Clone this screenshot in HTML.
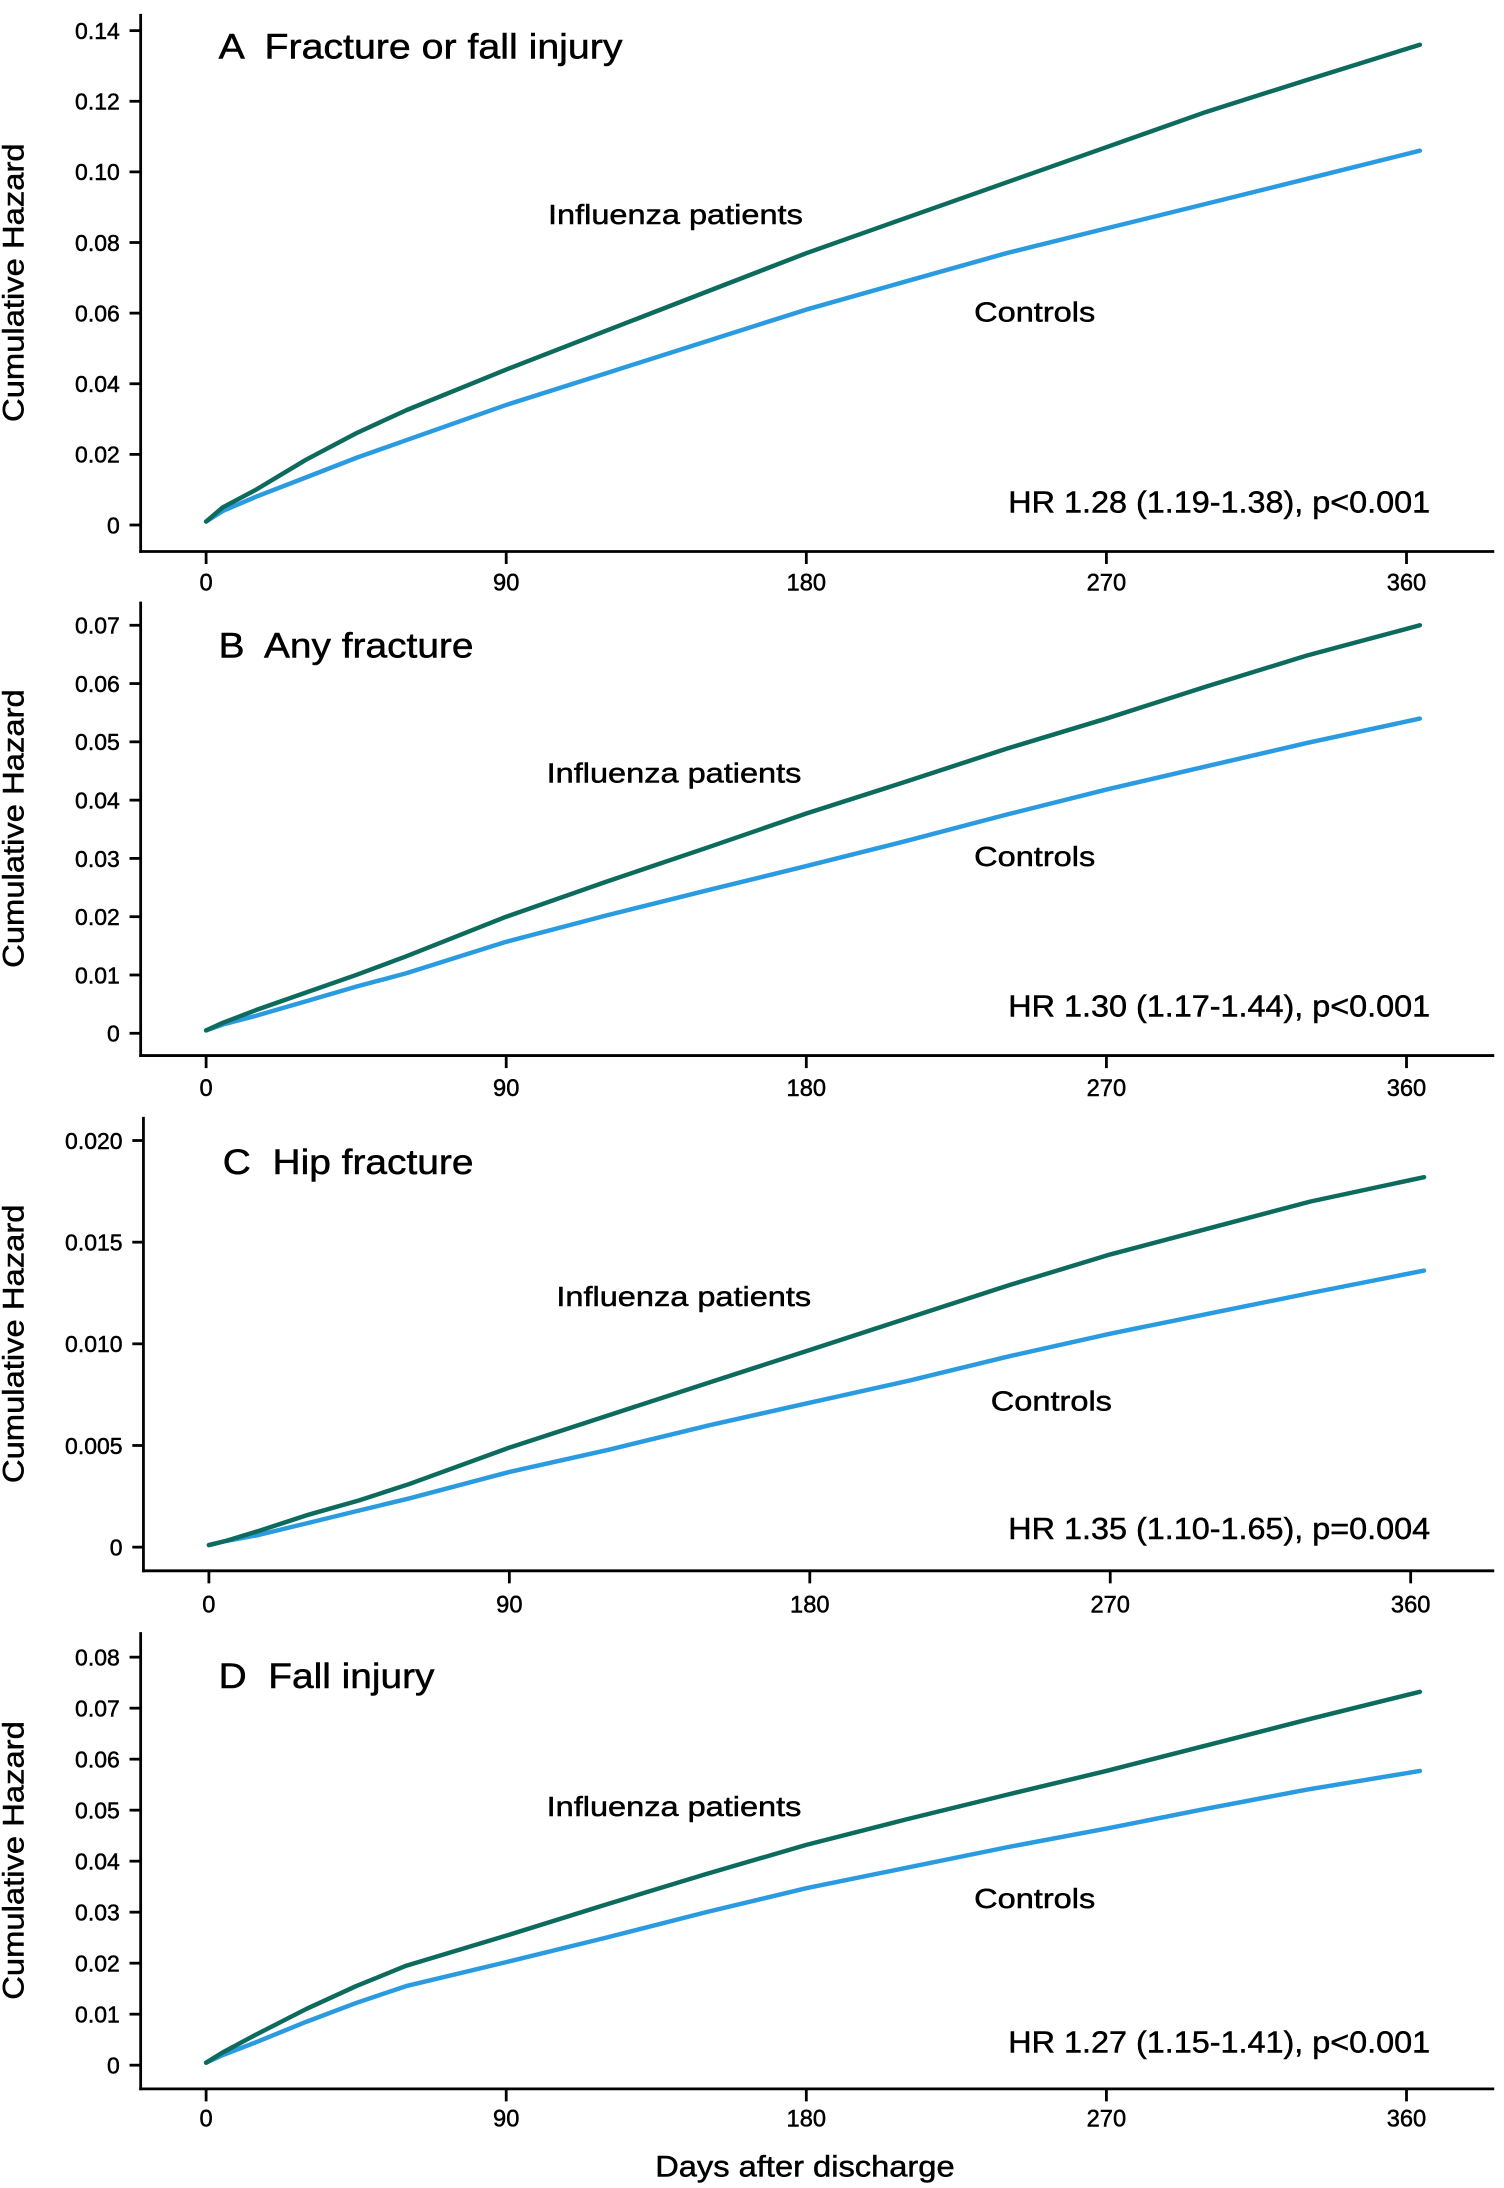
<!DOCTYPE html>
<html><head><meta charset="utf-8"><style>
html,body{margin:0;padding:0;background:#fff;}
svg{display:block;}
text{font-family:"Liberation Sans",Arial,sans-serif;fill:#000;stroke:#000;stroke-width:0.35;white-space:pre;}
</style></head><body>
<svg id="chart" width="1504" height="2188" viewBox="0 0 1080 1571.2" xmlns="http://www.w3.org/2000/svg" xml:space="preserve"></svg>
<script>
const days = [0,5,15,30,45,60,90,120,150,180,210,240,270,300,330,364];
const xTicks = [0,90,180,270,360];
const fluA = [0.001,0.005,0.010,0.0185,0.026,0.0325,0.044,0.055,0.066,0.077,0.087,0.097,0.107,0.117,0.126,0.136];
const ctlA = [0.001,0.004,0.008,0.0135,0.019,0.024,0.034,0.043,0.052,0.061,0.069,0.077,0.084,0.091,0.098,0.106];
const fluB = [0.0005,0.0018,0.0040,0.0070,0.0100,0.0132,0.0200,0.0260,0.0318,0.0377,0.0432,0.0488,0.0540,0.0595,0.0648,0.0700];
const ctlB = [0.0005,0.0015,0.0030,0.0055,0.0080,0.0103,0.0157,0.0202,0.0245,0.0287,0.0330,0.0375,0.0418,0.0458,0.0498,0.0540];
const fluC = [0.0001,0.0003,0.0008,0.0016,0.0023,0.0031,0.0049,0.0065,0.0081,0.0097,0.0113,0.0129,0.0144,0.0157,0.0170,0.0182];
const ctlC = [0.0001,0.0003,0.0006,0.0012,0.0018,0.0024,0.0037,0.0048,0.0060,0.0071,0.0082,0.0094,0.0105,0.0115,0.0125,0.0136];
const fluD = [0.0005,0.0025,0.0060,0.0110,0.0155,0.0195,0.0254,0.0315,0.0375,0.0432,0.0482,0.0530,0.0577,0.0627,0.0677,0.0732];
const ctlD = [0.0005,0.0020,0.0045,0.0085,0.0122,0.0155,0.0202,0.0250,0.0300,0.0347,0.0387,0.0427,0.0464,0.0503,0.0540,0.0577];
const yTicksA = [0,0.02,0.04,0.06,0.08,0.10,0.12,0.14];
const yLabelsA = ["0","0.02","0.04","0.06","0.08","0.10","0.12","0.14"];
const yTicksB = [0,0.01,0.02,0.03,0.04,0.05,0.06,0.07];
const yLabelsB = ["0","0.01","0.02","0.03","0.04","0.05","0.06","0.07"];
const yTicksC = [0,0.005,0.010,0.015,0.020];
const yLabelsC = ["0","0.005","0.010","0.015","0.020"];
const yTicksD = [0,0.01,0.02,0.03,0.04,0.05,0.06,0.07,0.08];
const yLabelsD = ["0","0.01","0.02","0.03","0.04","0.05","0.06","0.07","0.08"];

const NS="http://www.w3.org/2000/svg";
const svg=document.getElementById('chart');
function el(tag,attrs,parent){const e=document.createElementNS(NS,tag);for(const k in attrs)e.setAttribute(k,attrs[k]);(parent||svg).appendChild(e);return e;}
function txt(s,attrs,parent){const t=el('text',attrs,parent);t.textContent=s;return t;}

const panels=[
 {id:'a',title:'A  Fracture or fall injury',titleW:290,ax:101,top:10,bot:396,x0:148,x360:1010,y0:377,yMax:0.14,yMaxPx:22,
  ticks:yTicksA,labels:yLabelsA,flu:fluA,ctl:ctlA,tY:33,tX:157,fluL:[485,154],ctlL:[743,224],hr:'HR 1.28 (1.19-1.38), p<0.001',hrY:360,xlY:418},
 {id:'b',title:'B  Any fracture',titleW:183,ax:101,top:432,bot:758,x0:148,x360:1010,y0:742,yMax:0.07,yMaxPx:449,
  ticks:yTicksB,labels:yLabelsB,flu:fluB,ctl:ctlB,tY:463,tX:157,fluL:[484,555],ctlL:[743,615],hr:'HR 1.30 (1.17-1.44), p<0.001',hrY:722,xlY:781},
 {id:'c',title:'C  Hip fracture',titleW:180,ax:103,top:802,bot:1128,x0:150,x360:1013,y0:1111,yMax:0.020,yMaxPx:819,
  ticks:yTicksC,labels:yLabelsC,flu:fluC,ctl:ctlC,tY:834,tX:160,fluL:[491,931],ctlL:[755,1006],hr:'HR 1.35 (1.10-1.65), p=0.004',hrY:1097,xlY:1152},
 {id:'d',title:'D  Fall injury',titleW:155,ax:101,top:1172,bot:1500,x0:148,x360:1010,y0:1483,yMax:0.08,yMaxPx:1190,
  ticks:yTicksD,labels:yLabelsD,flu:fluD,ctl:ctlD,tY:1203,tX:157,fluL:[484,1297],ctlL:[743,1363],hr:'HR 1.27 (1.15-1.41), p<0.001',hrY:1466,xlY:1521}
];

panels.forEach(p=>{
  const g=el('g',{});
  
  
  const xs=d=>p.x0+(d/360)*(p.x360-p.x0);
  const ys=v=>p.y0-(v/p.yMax)*(p.y0-p.yMaxPx);
  const ya=el('line',{x1:p.ax,y1:p.top,x2:p.ax,y2:p.bot+1,stroke:'#000','stroke-width':2},g);
  
  
  const xa=el('line',{x1:p.ax-1,y1:p.bot,x2:1073,y2:p.bot,stroke:'#000','stroke-width':2},g);
  
  
  p.ticks.forEach((v,i)=>{
    const y=ys(v);
    el('line',{x1:p.ax-8,y1:y,x2:p.ax,y2:y,stroke:'#000','stroke-width':2},g);
    const t=txt(p.labels[i],{x:p.ax-15,y:y+6,'font-size':16.5,'text-anchor':'end'},g);
    
    
  });
  xTicks.forEach(d=>{
    const x=xs(d);
    el('line',{x1:x,y1:p.bot,x2:x,y2:p.bot+9,stroke:'#000','stroke-width':2},g);
    const t=txt(String(d),{x:x,y:p.xlY+6,'font-size':17,'text-anchor':'middle'},g);
    
    
  });
  const mk=(arr,color,name)=>{
    const d=arr.map((v,i)=>(i?'L':'M')+xs(days[i]).toFixed(1)+' '+ys(v).toFixed(1)).join(' ');
    const path=el('path',{d:d,fill:'none',stroke:color,'stroke-width':3.2,'stroke-linejoin':'round','stroke-linecap':'round'},g);
    
    
  };
  mk(p.ctl,'#2a9be0','controls-line-'+p.id);
  mk(p.flu,'#0d6b5e','influenza-line-'+p.id);
  const tt=txt(p.title,{x:p.tX,y:p.tY+9,'font-size':25,textLength:p.titleW,lengthAdjust:'spacingAndGlyphs'},g);
  
  
  const fl=txt('Influenza patients',{x:p.fluL[0],y:p.fluL[1]+7,'font-size':20,'text-anchor':'middle',textLength:183,lengthAdjust:'spacingAndGlyphs'},g);
  
  
  const cl=txt('Controls',{x:p.ctlL[0],y:p.ctlL[1]+7,'font-size':20,'text-anchor':'middle',textLength:87,lengthAdjust:'spacingAndGlyphs'},g);
  
  
  const hr=txt(p.hr,{x:1027,y:p.hrY+8,'font-size':22,'text-anchor':'end',textLength:303,lengthAdjust:'spacingAndGlyphs'},g);
  
  
  const yt=txt('Cumulative Hazard',{x:0,y:0,'font-size':21,'text-anchor':'middle',textLength:200,lengthAdjust:'spacingAndGlyphs',transform:'translate(17,'+((p.top+p.bot)/2)+') rotate(-90)'},g);
  
  
});
const xt=txt('Days after discharge',{x:578,y:1563,'font-size':21,'text-anchor':'middle',textLength:215,lengthAdjust:'spacingAndGlyphs'});


</script>
</body></html>
